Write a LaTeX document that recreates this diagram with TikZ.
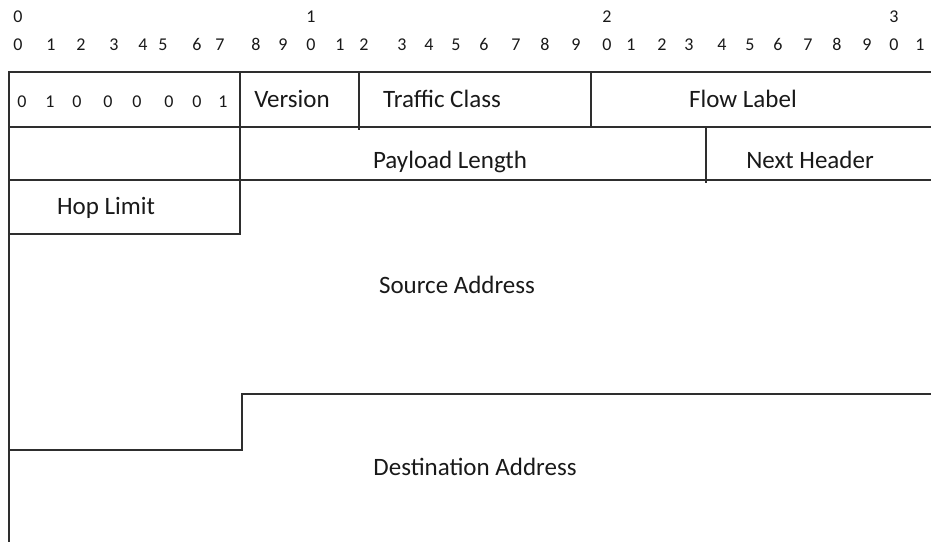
\documentclass[tikz,border=0pt]{standalone}
\usepackage{fontspec}
\setmainfont{Carlito}[Numbers=Lining]
\begin{document}
\begin{tikzpicture}[x=1pt,y=-1pt,
  rule/.style={line width=1.7pt,draw=black!82,line cap=rect},
  lab/.style={font=\fontsize{25}{25}\selectfont,text=black!90,inner sep=0pt,anchor=base},
  dig/.style={font=\fontsize{18}{18}\selectfont,text=black!90,inner sep=0pt,anchor=base}]
\useasboundingbox (0,0) rectangle (931,541);
% bit numbering
\foreach \x/\d [count=\i] in {18/0,311/1,607/2,894/3}
  \node[dig] (t\i) at (\x,22) {\d};
\foreach \x/\d [count=\i] in {18/0,51/1,81/2,114/3,143/4,163/5,197/6,220/7,256/8,283/9,
  311/0,340/1,364/2,402/3,429/4,456/5,484/6,516/7,545/8,576/9,
  607/0,631/1,662/2,689/3,722/4,750/5,778/6,808/7,837/8,867/9,894/0,920/1}
  \node[dig] (b\i) at (\x,50) {\d};
% first field bits
\foreach \x/\d [count=\i] in {22/0,50/1,77/0,108/0,137/0,169/0,197/0,223/1}
  \node[dig] (v\i) at (\x,107) {\d};
% grid
\draw[rule] (9,541) -- (9,72) -- (931,72);
\draw[rule] (9,127) -- (931,127);
\draw[rule] (9,180) -- (931,180);
\draw[rule] (240,72) -- (240,234);
\draw[rule] (359,72) -- (359,129);
\draw[rule] (591,72) -- (591,127);
\draw[rule] (706,127) -- (706,182);
\draw[rule] (9,234) -- (240,234);
\draw[rule] (931,394) -- (242,394) -- (242,450) -- (9,450);
% labels
\node[lab] (ver) at (292,107) {Version};
\node[lab] (tc) at (442,107) {Traffic Class};
\node[lab] (fl) at (743,107) {Flow Label};
\node[lab] (pl) at (450,168) {Payload Length};
\node[lab] (nh) at (810,168) {Next Header};
\node[lab] (hl) at (106,214) {Hop Limit};
\node[lab] (sa) at (457,293) {Source Address};
\node[lab] (da) at (475,475) {Destination Address};
\end{tikzpicture}
\end{document}
